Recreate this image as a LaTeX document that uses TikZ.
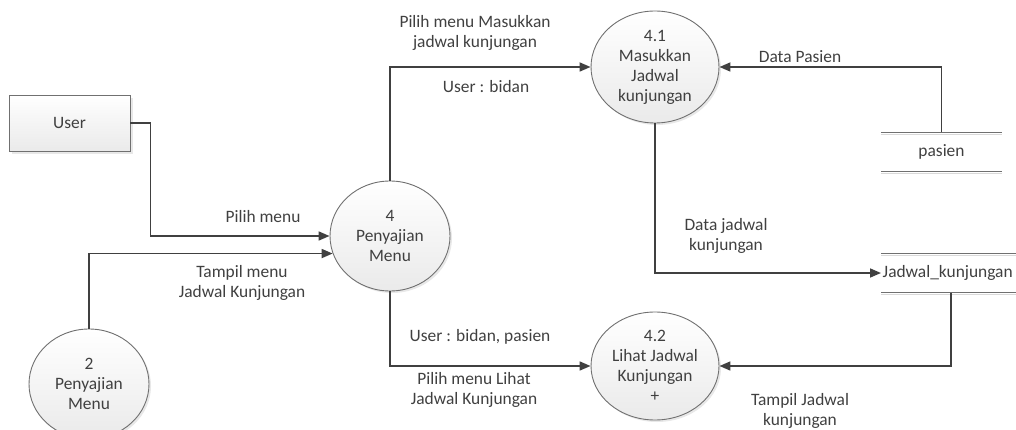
\documentclass[tikz,border=0pt]{standalone}
\usepackage{fontspec}
\setmainfont{Carlito}
\usetikzlibrary{arrows.meta,shapes.geometric,shadows}
\definecolor{ink}{HTML}{404040}
\definecolor{edge}{HTML}{707070}
\definecolor{fillb}{HTML}{EAEAEA}
\begin{document}
\begin{tikzpicture}[x=1pt,y=-1pt,
  every node/.style={font=\fontsize{17.4}{20}\selectfont, text=ink, align=center},
  proc/.style={ellipse, draw=edge, line width=0.9pt, top color=white, bottom color=fillb,
    drop shadow={shadow xshift=2pt, shadow yshift=-2pt, opacity=0.18, fill=gray}, inner sep=0pt},
  ent/.style={rectangle, draw=edge, line width=0.9pt, top color=white, bottom color=fillb,
    drop shadow={shadow xshift=3pt, shadow yshift=-3pt, opacity=0.18, fill=gray},
    minimum width=121pt, minimum height=56pt},
  store/.style={inner sep=2pt, minimum height=39pt},
  sline/.style={draw=edge, line width=1pt},
  sshadow/.style={draw=gray!30, line width=1pt},
  flow/.style={draw=ink, line width=1.7pt, -{Triangle[length=11pt,width=9pt]}},
  lbl/.style={inner sep=0pt}]
\useasboundingbox (0,0) rectangle (1016,430);
\clip (0,0) rectangle (1016,430);

% nodes
\node[ent] (user) at (69.5,123) {User};
\node[proc, minimum width=120pt, minimum height=110pt] (p4) at (390,236) {4\\Penyajian\\Menu};
\node[proc, minimum width=120pt, minimum height=110pt] (p2) at (89,384) {2\\Penyajian\\Menu};
\node[proc, minimum width=128pt, minimum height=112pt] (p41) at (655,67) {4.1\\Masukkan\\Jadwal\\kunjungan};
\node[proc, minimum width=128pt, minimum height=108pt] (p42) at (655,366) {4.2\\Lihat Jadwal\\Kunjungan\\+};

\node[store, minimum width=121pt] (pasien) at (941.5,152) {pasien};
\node[store, anchor=west, text width=136pt, align=left, inner xsep=1.5pt] (jadwal) at (881,273) {Jadwal\_kunjungan};

\draw[sshadow] ([yshift=-2pt]pasien.north west) -- ([yshift=-2pt]pasien.north east);
\draw[sshadow] ([yshift=-2pt]pasien.south west) -- ([yshift=-2pt]pasien.south east);
\draw[sshadow] ([yshift=-2pt]jadwal.north west) -- ([yshift=-2pt]jadwal.north east);
\draw[sshadow] ([yshift=-2pt]jadwal.south west) -- ([yshift=-2pt]jadwal.south east);
\draw[sline] (pasien.north west) -- (pasien.north east);
\draw[sline] (pasien.south west) -- (pasien.south east);
\draw[sline] (jadwal.north west) -- (jadwal.north east);
\draw[sline] (jadwal.south west) -- (jadwal.south east);

% flows
\draw[flow] (user.east) -- ++(20,0) |- (p4.west);
\draw[flow] (p2.north) |- (p4.197);
\draw[flow] (p4.north) |- (p41.west);
\draw[flow] (p4.south) |- (p42.west);
\draw[flow] (pasien.north) |- (p41.east);
\draw[flow] (p41.south) |- (jadwal.west);
\draw[flow] (jadwal.south) |- (p42.east);

% labels
\node[lbl] (l1) at (263,217) {Pilih menu};
\node[lbl] (l2) at (242,283) {Tampil menu\\Jadwal Kunjungan};
\node[lbl] (l3) at (475,33) {Pilih menu Masukkan\\jadwal kunjungan};
\node[lbl] (l4) at (486,87) {User : bidan};
\node[lbl] (l5) at (800,57) {Data Pasien};
\node[lbl] (l6) at (726,236) {Data jadwal\\kunjungan};
\node[lbl] (l7) at (480,337) {User : bidan, pasien};
\node[lbl] (l8) at (474,390) {Pilih menu Lihat\\Jadwal Kunjungan};
\node[lbl] (l9) at (800,411) {Tampil Jadwal\\kunjungan};
\end{tikzpicture}
\end{document}
